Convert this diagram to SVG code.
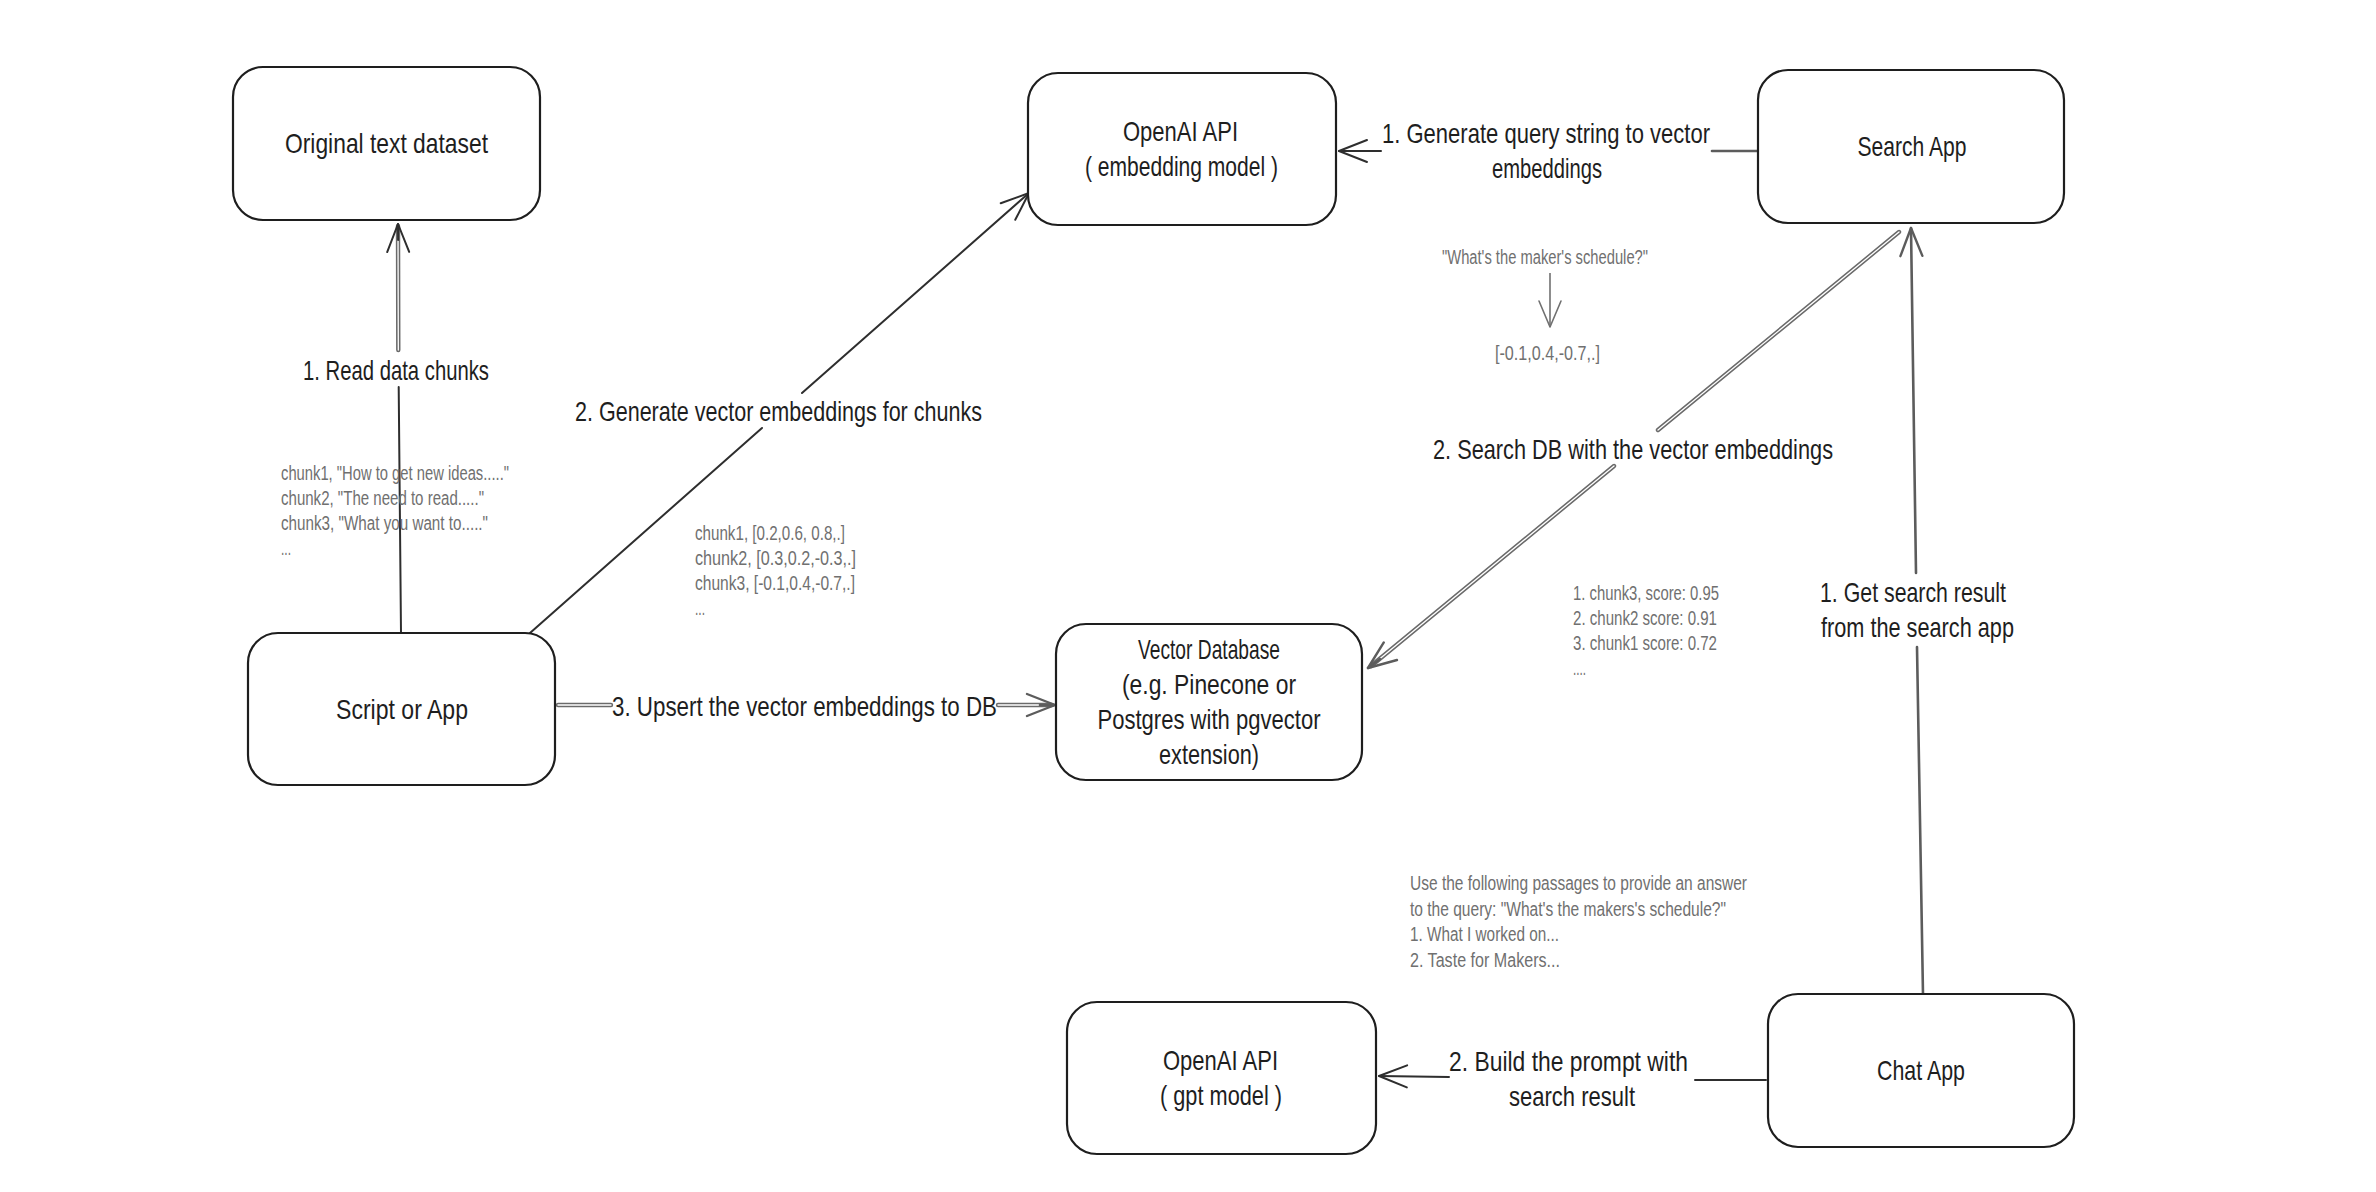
<svg xmlns="http://www.w3.org/2000/svg" width="2376" height="1192" viewBox="0 0 2376 1192">
<style>
.box{fill:#ffffff;stroke:#1e1e1e;stroke-width:2.2}
.t{font-family:"Liberation Sans","Noto Sans",sans-serif;font-size:28px;fill:#1e1e1e;text-anchor:middle}
.a{font-family:"Liberation Sans","Noto Sans",sans-serif;font-size:20px;fill:#707070}
.c{fill:none;stroke:#2e2e2e;stroke-width:2;stroke-linecap:round}
.g{fill:none;stroke:#5c5c5c;stroke-width:2.6;stroke-linecap:round}
.d{fill:none;stroke:#6a6a6a;stroke-width:4.4;stroke-linecap:round}
.dw{fill:none;stroke:#ffffff;stroke-width:1.3;stroke-linecap:round}
.s{fill:none;stroke:#707070;stroke-width:1.6}
</style>
<defs>
<marker id="arr" viewBox="0 0 32 26" refX="30" refY="13" markerWidth="32" markerHeight="26" markerUnits="userSpaceOnUse" orient="auto" overflow="visible">
<path d="M2,2 L30,13 L2,24" fill="none" stroke="#2e2e2e" stroke-width="2" stroke-linecap="round" stroke-linejoin="round"/>
</marker>
<marker id="arrg" viewBox="0 0 32 26" refX="30" refY="13" markerWidth="32" markerHeight="26" markerUnits="userSpaceOnUse" orient="auto" overflow="visible">
<path d="M2,2 L30,13 L2,24" fill="none" stroke="#5c5c5c" stroke-width="2.4" stroke-linecap="round" stroke-linejoin="round"/>
</marker>
<marker id="arrs" viewBox="0 0 30 24" refX="28" refY="12" markerWidth="30" markerHeight="24" markerUnits="userSpaceOnUse" orient="auto" overflow="visible">
<path d="M2,1 L28,12 L2,23" fill="none" stroke="#707070" stroke-width="1.6" stroke-linecap="round" stroke-linejoin="round"/>
</marker>
</defs>
<rect width="2376" height="1192" fill="#ffffff"/>

<g id="connectors">
<!-- 1. Read data chunks -->
<path class="c" d="M401,633 L398.7,387"/>
<path class="d" d="M398.3,350 L398,226"/>
<path class="dw" d="M398.3,350 L398,226"/>
<path class="c" d="M398.1,240 L398,224" marker-end="url(#arr)"/>
<!-- 2. Generate vector embeddings -->
<path class="c" d="M530,633 L762,428"/>
<path class="c" d="M802,393 L1029,193" marker-end="url(#arr)"/>
<!-- 3. Upsert -->
<path class="d" d="M558,705 L611,705"/>
<path class="dw" d="M558,705 L611,705"/>
<path class="d" d="M998,705 L1052,705"/>
<path class="dw" d="M998,705 L1052,705"/>
<path class="g" d="M1040,705 L1055,705" marker-end="url(#arrg)"/>
<!-- Search -> OpenAI embedding -->
<path class="g" d="M1757,151 L1712,151"/>
<path class="c" d="M1381,151 L1339,151" marker-end="url(#arr)"/>
<!-- Search -> Vector DB -->
<path class="d" d="M1899,232 L1658,430"/>
<path class="dw" d="M1899,232 L1658,430"/>
<path class="d" d="M1614,466 L1371,666"/>
<path class="dw" d="M1614,466 L1371,666"/>
<path class="g" d="M1380,659 L1368,668" marker-end="url(#arrg)"/>
<!-- Chat -> Search -->
<path class="g" d="M1923,994 L1917,647"/>
<path class="g" d="M1916,573 L1911,228" marker-end="url(#arrg)"/>
<!-- Chat -> OpenAI gpt -->
<path class="c" d="M1766,1080 L1695,1080"/>
<path class="c" d="M1449,1077 L1379,1076" marker-end="url(#arr)"/>
<!-- query annotation arrow -->
<path class="s" d="M1550,273 L1550,327" marker-end="url(#arrs)"/>
</g>

<g id="connector-labels">
<text class="t" x="396" y="380" textLength="186" lengthAdjust="spacingAndGlyphs">1. Read data chunks</text>
<text class="t" x="778.5" y="421" textLength="407" lengthAdjust="spacingAndGlyphs">2. Generate vector embeddings for chunks</text>
<text class="t" x="804.5" y="716" textLength="385" lengthAdjust="spacingAndGlyphs">3. Upsert the vector embeddings  to DB</text>
<text class="t" x="1546" y="143" textLength="328" lengthAdjust="spacingAndGlyphs">1. Generate query string to vector</text>
<text class="t" x="1547" y="178" textLength="110" lengthAdjust="spacingAndGlyphs">embeddings</text>
<text class="t" x="1633" y="459" textLength="400" lengthAdjust="spacingAndGlyphs">2. Search DB with the vector embeddings</text>
<text class="t" x="1913" y="602" textLength="186" lengthAdjust="spacingAndGlyphs">1. Get search result</text>
<text class="t" x="1917.5" y="637" textLength="193" lengthAdjust="spacingAndGlyphs">from the search app</text>
<text class="t" x="1568.5" y="1071" textLength="239" lengthAdjust="spacingAndGlyphs">2. Build the prompt with</text>
<text class="t" x="1572" y="1106" textLength="126" lengthAdjust="spacingAndGlyphs">search result</text>
</g>

<g id="annotations">
<text class="a" x="281" y="480" textLength="228" lengthAdjust="spacingAndGlyphs">chunk1, "How to get new ideas....."</text>
<text class="a" x="281" y="505" textLength="203" lengthAdjust="spacingAndGlyphs">chunk2, "The need to read....."</text>
<text class="a" x="281" y="530" textLength="207" lengthAdjust="spacingAndGlyphs">chunk3, "What you want to....."</text>
<text class="a" x="281" y="555" textLength="10" lengthAdjust="spacingAndGlyphs">...</text>
<text class="a" x="695" y="540" textLength="150" lengthAdjust="spacingAndGlyphs">chunk1, [0.2,0.6, 0.8,.]</text>
<text class="a" x="695" y="565" textLength="161" lengthAdjust="spacingAndGlyphs">chunk2, [0.3,0.2,-0.3,.]</text>
<text class="a" x="695" y="590" textLength="160" lengthAdjust="spacingAndGlyphs">chunk3, [-0.1,0.4,-0.7,.]</text>
<text class="a" x="695" y="615" textLength="10" lengthAdjust="spacingAndGlyphs">...</text>
<text class="a" x="1442" y="264" textLength="206" lengthAdjust="spacingAndGlyphs">"What's the maker's schedule?"</text>
<text class="a" x="1495" y="360" textLength="105" lengthAdjust="spacingAndGlyphs">[-0.1,0.4,-0.7,.]</text>
<text class="a" x="1573" y="600" textLength="146" lengthAdjust="spacingAndGlyphs">1. chunk3, score: 0.95</text>
<text class="a" x="1573" y="625" textLength="144" lengthAdjust="spacingAndGlyphs">2. chunk2 score: 0.91</text>
<text class="a" x="1573" y="650" textLength="144" lengthAdjust="spacingAndGlyphs">3. chunk1 score: 0.72</text>
<text class="a" x="1573" y="675" textLength="13" lengthAdjust="spacingAndGlyphs">....</text>
<text class="a" x="1410" y="890" textLength="337" lengthAdjust="spacingAndGlyphs">Use the following passages to provide an answer</text>
<text class="a" x="1410" y="916" textLength="316" lengthAdjust="spacingAndGlyphs">to the query: "What's the makers's schedule?"</text>
<text class="a" x="1410" y="941" textLength="149" lengthAdjust="spacingAndGlyphs">1. What I worked on...</text>
<text class="a" x="1410" y="967" textLength="150" lengthAdjust="spacingAndGlyphs">2. Taste for Makers...</text>
</g>

<g id="node-original">
<rect class="box" x="233" y="67" width="307" height="153" rx="30"/>
<text class="t" x="386.5" y="153" textLength="203" lengthAdjust="spacingAndGlyphs">Original text dataset</text>
</g>
<g id="node-openai-embedding">
<rect class="box" x="1028" y="73" width="308" height="152" rx="30"/>
<text class="t" x="1180.5" y="141" textLength="115" lengthAdjust="spacingAndGlyphs">OpenAI API</text>
<text class="t" x="1181.5" y="176" textLength="193" lengthAdjust="spacingAndGlyphs">( embedding model )</text>
</g>
<g id="node-search-app">
<rect class="box" x="1758" y="70" width="306" height="153" rx="30"/>
<text class="t" x="1912" y="156" textLength="109" lengthAdjust="spacingAndGlyphs">Search App</text>
</g>
<g id="node-script">
<rect class="box" x="248" y="633" width="307" height="152" rx="30"/>
<text class="t" x="402" y="719" textLength="132" lengthAdjust="spacingAndGlyphs">Script or App</text>
</g>
<g id="node-vector-db">
<rect class="box" x="1056" y="624" width="306" height="156" rx="30"/>
<text class="t" x="1209" y="659" textLength="142" lengthAdjust="spacingAndGlyphs">Vector Database</text>
<text class="t" x="1209" y="694" textLength="174" lengthAdjust="spacingAndGlyphs">(e.g. Pinecone or</text>
<text class="t" x="1209" y="729" textLength="223" lengthAdjust="spacingAndGlyphs">Postgres with pgvector</text>
<text class="t" x="1209" y="764" textLength="100" lengthAdjust="spacingAndGlyphs">extension)</text>
</g>
<g id="node-openai-gpt">
<rect class="box" x="1067" y="1002" width="309" height="152" rx="30"/>
<text class="t" x="1220.5" y="1070" textLength="115" lengthAdjust="spacingAndGlyphs">OpenAI API</text>
<text class="t" x="1221" y="1105" textLength="122" lengthAdjust="spacingAndGlyphs">( gpt model )</text>
</g>
<g id="node-chat-app">
<rect class="box" x="1768" y="994" width="306" height="153" rx="30"/>
<text class="t" x="1921" y="1080" textLength="88" lengthAdjust="spacingAndGlyphs">Chat App</text>
</g>
</svg>
